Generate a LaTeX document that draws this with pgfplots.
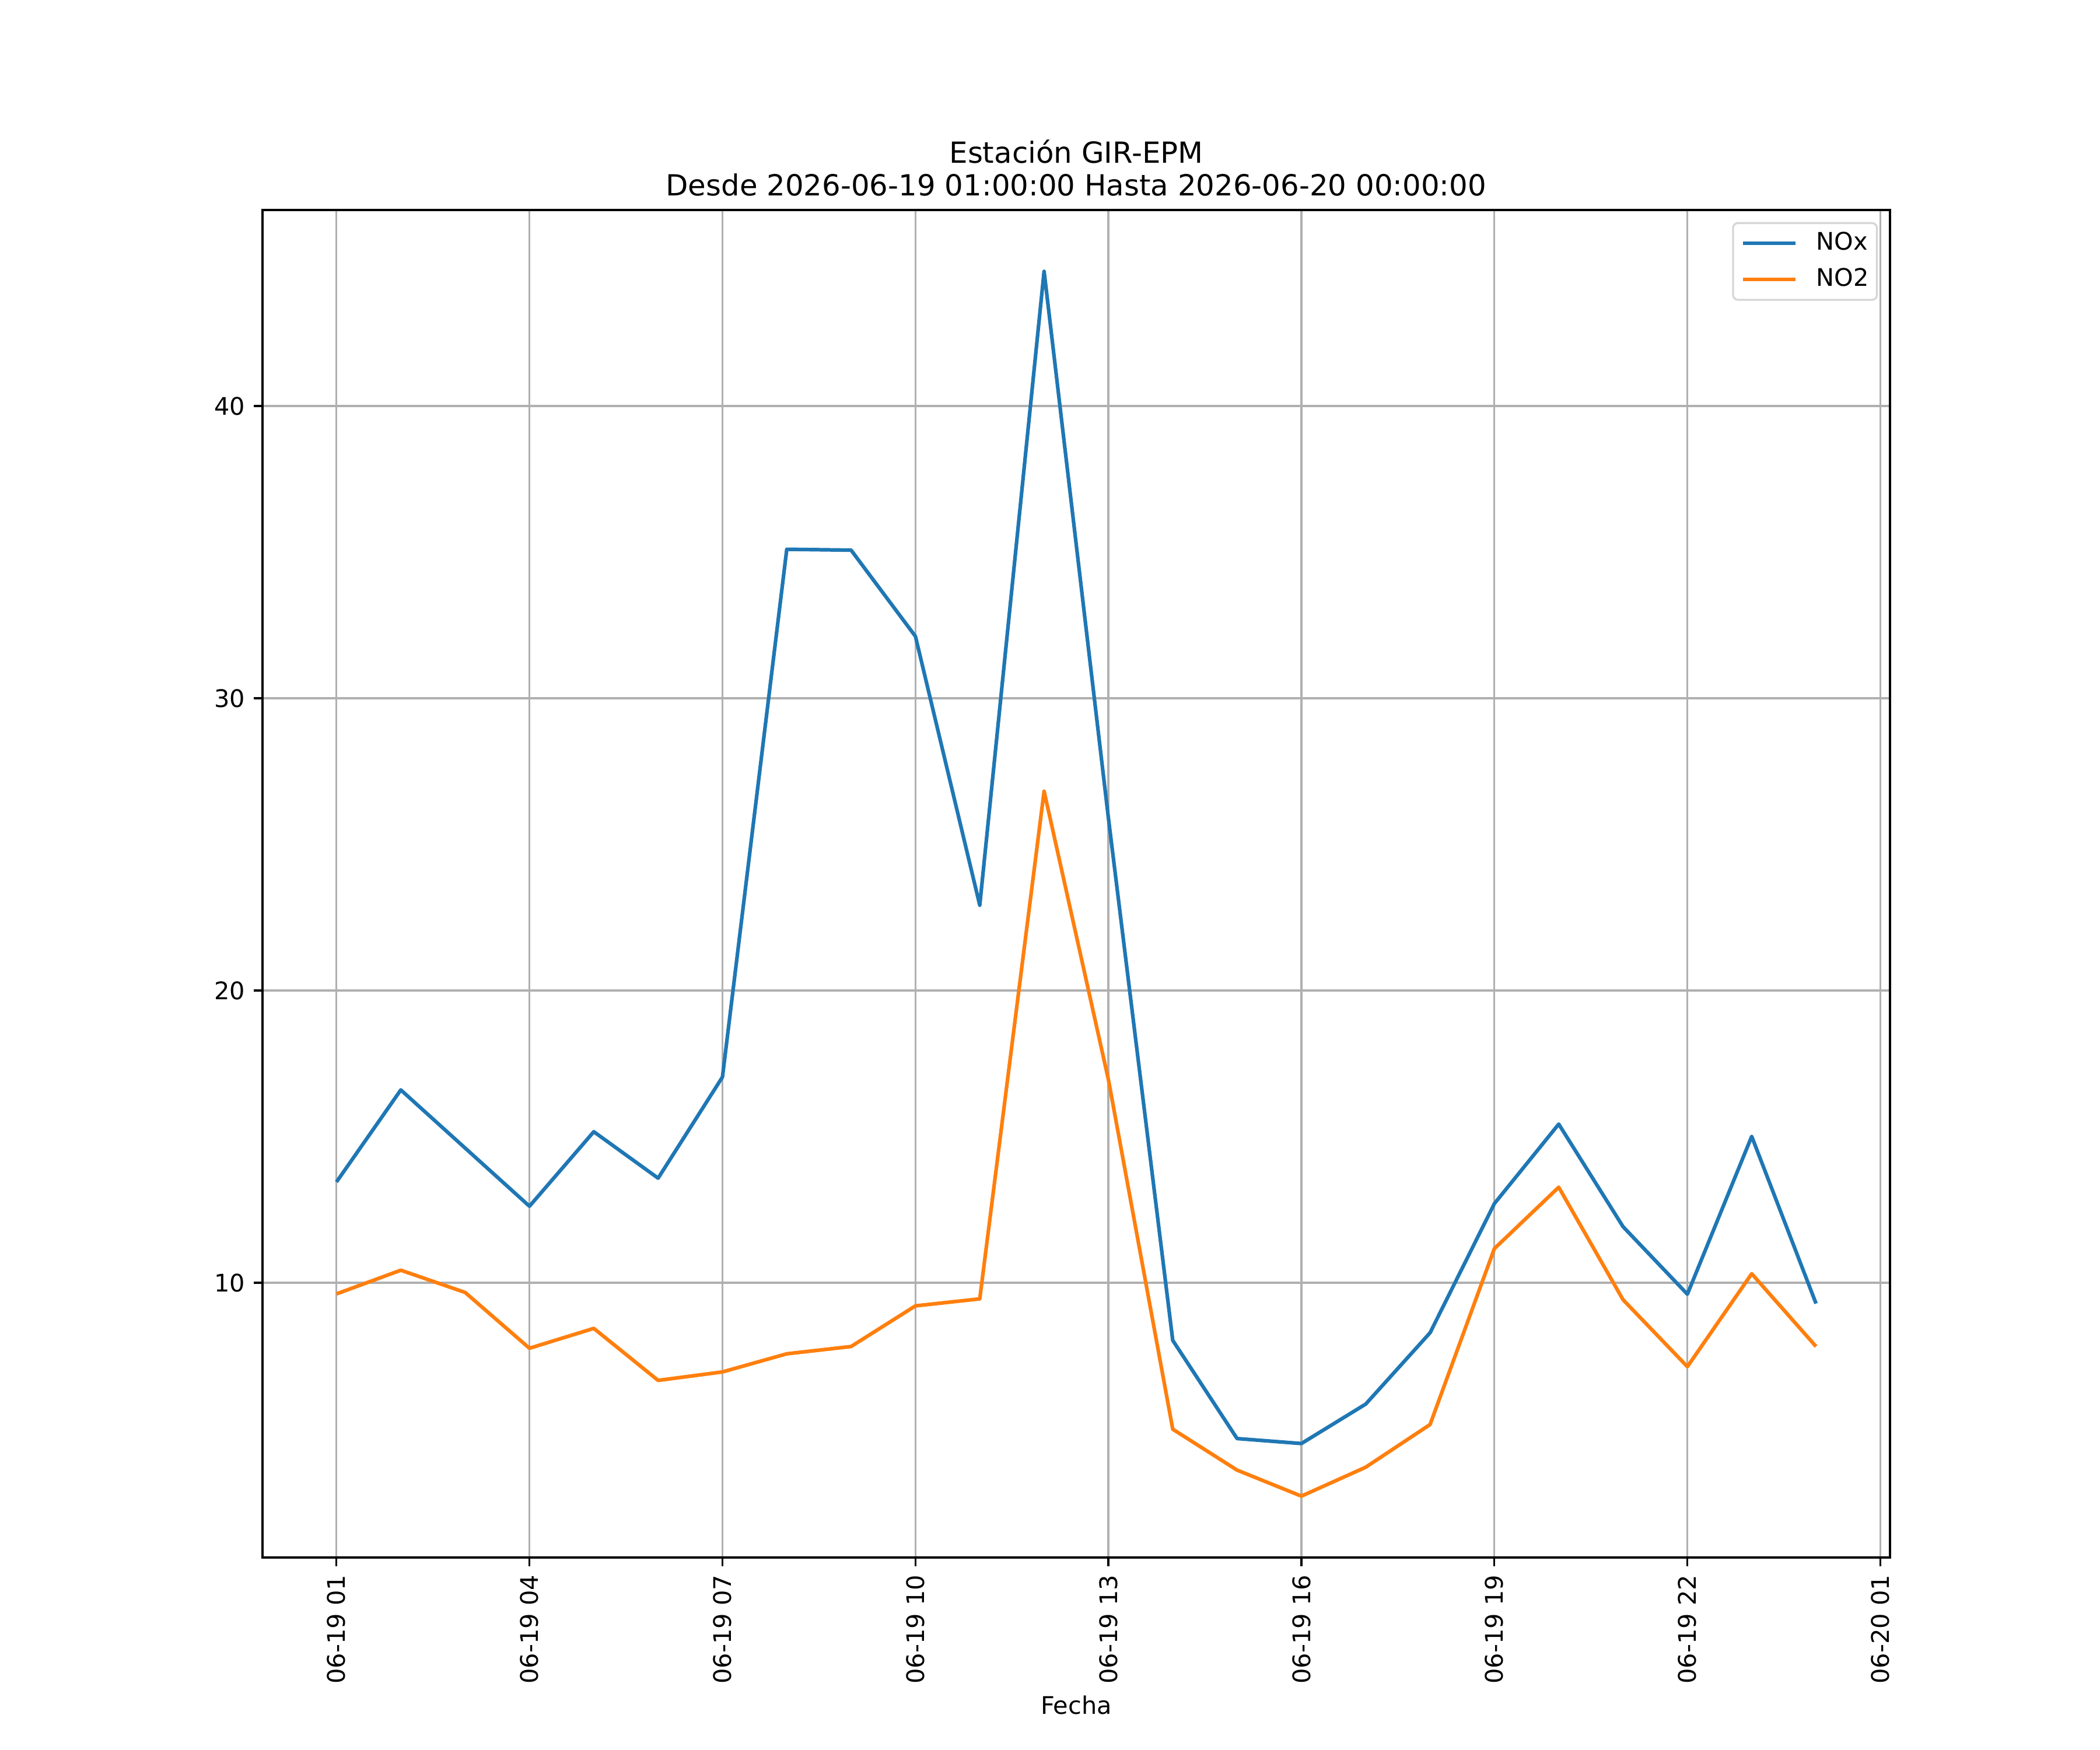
\documentclass[border=0pt]{standalone}
\usepackage{fontspec}
\setmainfont{DejaVu Sans}
\usepackage{pgfplots}
\usepackage{pgfplotstable}
\pgfplotsset{compat=1.18}
\definecolor{c0}{HTML}{1F77B4}
\definecolor{c1}{HTML}{FF7F0E}
\definecolor{gridc}{HTML}{B0B0B0}
\definecolor{legc}{HTML}{D6D6D6}

\pgfplotstableread{
h nox no2
1 13.45 9.62
2 16.60 10.43
3 14.61 9.67
4 12.62 7.76
5 15.17 8.44
6 13.58 6.66
7 17.04 6.95
8 35.10 7.57
9 35.07 7.82
10 32.12 9.21
11 22.92 9.45
12 44.61 26.82
13 25.90 16.95
14 8.03 4.99
15 4.67 3.59
16 4.50 2.70
17 5.85 3.69
18 8.29 5.15
19 12.71 11.17
20 15.43 13.27
21 11.92 9.42
22 9.61 7.13
23 15.01 10.31
24 9.29 7.82
}\data

\begin{document}
\begin{tikzpicture}
\path[use as bounding box] (0,0) rectangle (12in,10in);
\begin{axis}[
  at={(1.5in,1.1in)}, anchor=south west,
  width=9.3in, height=7.7in, scale only axis,
  xmin=-0.15, xmax=25.15, ymin=0.6, ymax=46.71,
  xtick={1,4,7,10,13,16,19,22,25},
  xticklabels={06-19 01,06-19 04,06-19 07,06-19 10,06-19 13,06-19 16,06-19 19,06-19 22,06-20 01},
  ytick={10,20,30,40},
  grid=major,
  major grid style={gridc, line width=0.8pt},
  axis line style={black, line width=0.8pt},
  every tick/.style={black, line width=0.8pt},
  tick align=outside,
  major tick length=3.5pt,
  xtick pos=lower, ytick pos=left,
  minor tick num=0,
  /pgf/number format/assume math mode=true,
  ticklabel style={font=\fontsize{10}{12}\selectfont, inner sep=0pt},
  xticklabel style={rotate=90, anchor=east},
  yticklabel style={anchor=east},
  xticklabel shift=3.5pt,
  yticklabel shift=3.5pt,
  xlabel={Fecha},
  xlabel style={at={(axis description cs:0.5,0)}, anchor=base, yshift=-64.6pt, inner sep=0pt, font=\fontsize{10}{12}\selectfont},
  clip=false,
  legend style={at={(1,1)}, anchor=north east, xshift=-5pt, yshift=-5pt,
    draw=legc, line width=0.8pt, rounded corners=2pt, fill=white,
    font=\fontsize{10}{12}\selectfont,
    inner xsep=3.4pt, inner ysep=3.6pt,
    nodes={inner sep=0pt, text height=7.5pt, text depth=2pt},
    row sep=5.5pt, column sep=7.7pt},
  legend cell align=left,
  legend image code/.code={\draw[#1, line width=1.5pt] (0pt,0pt) -- (21.7pt,0pt);},
]
\addplot[c0, line width=1.5pt, line join=round] table[x=h, y=nox] {\data};
\addlegendentry{NOx}
\addplot[c1, line width=1.5pt, line join=round] table[x=h, y=no2] {\data};
\addlegendentry{NO2}
\node[anchor=base, inner sep=0pt, font=\fontsize{12}{14}\selectfont] at (rel axis cs:0.5,1) [yshift=19.3pt] {Estación GIR-EPM};
\node[anchor=base, inner sep=0pt, font=\fontsize{12}{14}\selectfont] at (rel axis cs:0.5,1) [yshift=6pt] {Desde 2026-06-19 01:00:00 Hasta 2026-06-20 00:00:00};
\end{axis}
\end{tikzpicture}
\end{document}
